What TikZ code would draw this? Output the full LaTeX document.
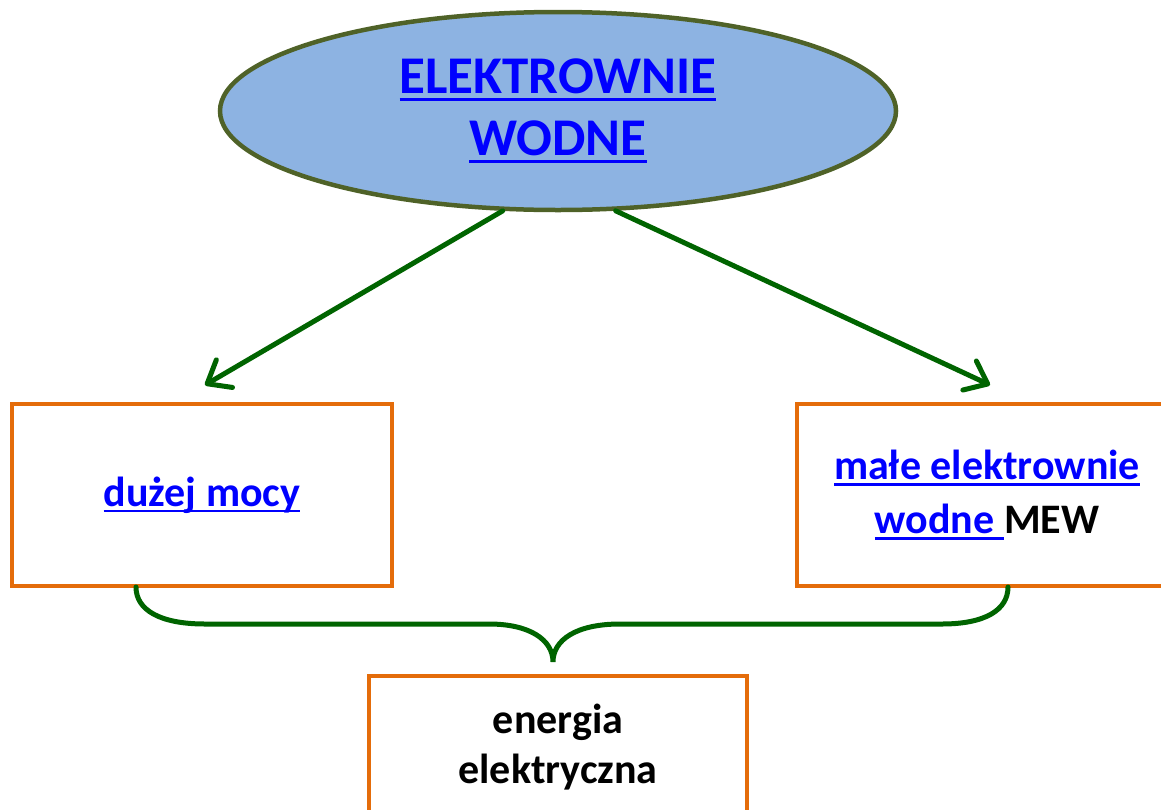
\documentclass[tikz,border=0pt]{standalone}
\usepackage{fontspec}
\setmainfont{Carlito}
\usetikzlibrary{shapes.geometric,arrows.meta}
\definecolor{ellfill}{HTML}{8DB3E2}
\definecolor{elldraw}{HTML}{4F6228}
\definecolor{arrgreen}{HTML}{006400}
\definecolor{boxorange}{HTML}{E46C0A}
\definecolor{linkblue}{HTML}{0000FF}
\newcommand\myul[2][0.06em]{\setbox0\hbox{#2}\rlap{\rule[-0.14em]{\wd0}{#1}}\box0}
\tikzset{
  titleell/.style={ellipse, draw=elldraw, fill=ellfill, line width=4.5pt, minimum width=676pt, minimum height=198pt, inner sep=0pt, align=center, text=linkblue, font=\fontsize{53}{62}\selectfont\bfseries},
  obox/.style={draw=boxorange, line width=4.5pt, rectangle, inner sep=0pt, align=center, font=\fontsize{42}{54}\selectfont\bfseries},
  garrow/.style={draw=arrgreen, line width=5pt, line cap=round, -{Straight Barb[length=20pt, width=32pt, line width=5pt, line cap=round, line join=round]}},
  gbrace/.style={draw=arrgreen, line width=5pt, line cap=round}
}
\begin{document}
\begin{tikzpicture}[x=1pt,y=-1pt]
\useasboundingbox (0,0) rectangle (1161,809);
\clip (0,0) rectangle (1161,809);
\node[titleell] (top) at (558,111) {\myul{ELEKTROWNIE}\\\myul{WODNE}};
\node[obox, minimum width=380pt, minimum height=182pt, text=linkblue] (left) at (202,495) {\myul{dużej mocy}};
\node[obox, minimum width=380pt, minimum height=182pt] (right) at (987,495) {\textcolor{linkblue}{\myul{małe elektrownie}}\\\textcolor{linkblue}{\myul{wodne\ }}MEW};
\node[obox, minimum width=378pt, minimum height=142pt, font=\fontsize{42}{50}\selectfont\bfseries] (bottom) at (558,747) {energia\\elektryczna};
\coordinate (la) at (205,385);
\coordinate (ra) at (990,385);
\draw[garrow] (top.241.3) -- (la);
\draw[garrow] (top.300.4) -- (ra);
\coordinate (bl) at (136,587);
\coordinate (br) at (1008,587);
\coordinate (tip) at (553,662);
\draw[gbrace] (bl) .. controls (136,610) and (160,624) .. (205,624) -- (489,624) .. controls (530,624) and (553,640) .. (tip)
  .. controls (553,640) and (576,624) .. (620,624) -- (942,624) .. controls (985,624) and (1008,610) .. (br);
\end{tikzpicture}
\end{document}
